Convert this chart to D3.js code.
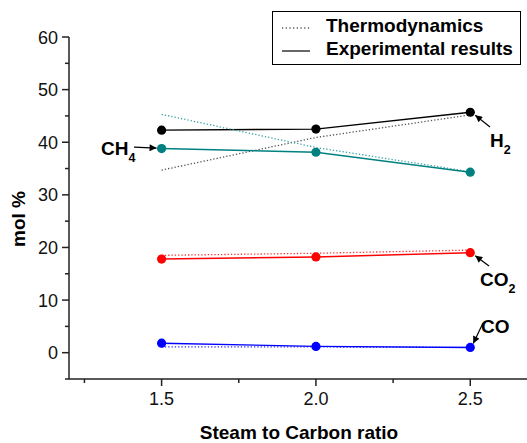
<!DOCTYPE html>
<html>
<head>
<meta charset="utf-8">
<script src="https://cdn.jsdelivr.net/npm/d3@7"></script>
<style>
  body { margin: 0; background: #fff; }
  svg { font-family: "Liberation Sans", Arial, sans-serif; }
</style>
</head>
<body>
<svg id="chart" width="527" height="443"></svg>
<script>
// steam to carbon ratios
const ratios = [1.5, 2.0, 2.5];

// experimental results (mol %)
const expH2 = [42.3, 42.5, 45.7];
const expCH4 = [38.8, 38.1, 34.3];
const expCO2 = [17.8, 18.2, 19.0];
const expCO = [1.8, 1.2, 1.0];

// thermodynamic equilibrium (mol %)
const thH2 = [34.7, 40.9, 45.2];
const thCH4 = [45.3, 39.0, 34.4];
const thCO2 = [18.5, 18.9, 19.5];
const thCO = [1.1, 1.1, 1.0];

const xTicks = [1.5, 2.0, 2.5];
const xMinorTicks = [1.25, 1.75, 2.25];
const yTicks = [0, 10, 20, 30, 40, 50, 60];
const yMinorTicks = [-5, 5, 15, 25, 35, 45, 55];

const series = [
  {name: 'H2', exp: expH2, th: thH2, color: '#000000', thColor: '#555555'},
  {name: 'CH4', exp: expCH4, th: thCH4, color: '#008080', thColor: '#3aa3a3'},
  {name: 'CO2', exp: expCO2, th: thCO2, color: '#ff0000', thColor: '#ff3030'},
  {name: 'CO', exp: expCO, th: thCO, color: '#0000ff', thColor: '#3030ff'},
];

const svg = d3.select('#chart');

const x = d3.scaleLinear().domain([1.2, 2.7]).range([69, 532]);
const y = d3.scaleLinear().domain([-5, 60]).range([379, 37]);

// axes
const xAxis = svg.append('g').attr('transform', 'translate(0,379)');
xAxis.append('line').attr('x1', 69).attr('x2', 527)
    .attr('stroke', '#222').attr('stroke-width', 1.5);
xAxis.selectAll('.major').data(xTicks).join('line')
    .attr('x1', d => x(d)).attr('x2', d => x(d))
    .attr('y1', 0).attr('y2', 7)
    .attr('stroke', '#222').attr('stroke-width', 1.5);
xAxis.selectAll('.minor').data(xMinorTicks).join('line')
    .attr('x1', d => x(d)).attr('x2', d => x(d))
    .attr('y1', 0).attr('y2', 4)
    .attr('stroke', '#222').attr('stroke-width', 1.5);
xAxis.selectAll('text').data(xTicks).join('text')
    .attr('x', d => x(d)).attr('y', 26)
    .attr('text-anchor', 'middle')
    .attr('font-size', 18).attr('fill', '#111')
    .text(d => d.toFixed(1));

const yAxis = svg.append('g').attr('transform', 'translate(69,0)');
yAxis.append('line').attr('y1', y(60)).attr('y2', 379)
    .attr('stroke', '#222').attr('stroke-width', 1.5);
yAxis.selectAll('.major').data(yTicks).join('line')
    .attr('y1', d => y(d)).attr('y2', d => y(d))
    .attr('x1', -7).attr('x2', 0)
    .attr('stroke', '#222').attr('stroke-width', 1.5);
yAxis.selectAll('.minor').data(yMinorTicks).join('line')
    .attr('y1', d => y(d)).attr('y2', d => y(d))
    .attr('x1', -4).attr('x2', 0)
    .attr('stroke', '#222').attr('stroke-width', 1.5);
yAxis.selectAll('text').data(yTicks).join('text')
    .attr('x', -11).attr('y', d => y(d) + 6.5)
    .attr('text-anchor', 'end')
    .attr('font-size', 18).attr('fill', '#111')
    .text(d => d);

// axis titles
svg.append('text')
    .attr('transform', 'translate(25,219) rotate(-90)')
    .attr('text-anchor', 'middle')
    .attr('font-size', 19).attr('font-weight', 'bold')
    .text('mol %');
svg.append('text')
    .attr('x', 299).attr('y', 439)
    .attr('text-anchor', 'middle')
    .attr('font-size', 19).attr('font-weight', 'bold')
    .text('Steam to Carbon ratio');

// lines
const line = d3.line().x((d, i) => x(ratios[i])).y(d => y(d));

for (const s of series) {
  svg.append('path')
      .attr('d', line(s.th))
      .attr('fill', 'none')
      .attr('stroke', s.thColor)
      .attr('stroke-width', 1.3)
      .attr('stroke-dasharray', '1.3,2');
  svg.append('path')
      .attr('d', line(s.exp))
      .attr('fill', 'none')
      .attr('stroke', s.color)
      .attr('stroke-width', 1.4);
  svg.append('g').selectAll('circle').data(s.exp).join('circle')
      .attr('cx', (d, i) => x(ratios[i]))
      .attr('cy', d => y(d))
      .attr('r', 4.6)
      .attr('fill', s.color);
}

// arrow marker
svg.append('defs').append('marker')
    .attr('id', 'arrow')
    .attr('viewBox', '0 0 10 10')
    .attr('refX', 10).attr('refY', 5)
    .attr('markerWidth', 9).attr('markerHeight', 7)
    .attr('markerUnits', 'userSpaceOnUse')
    .attr('orient', 'auto')
    .append('path').attr('d', 'M0,0 L10,5 L0,10 Z').attr('fill', '#000');

function arrow(x1, y1, x2, y2) {
  svg.append('line')
      .attr('x1', x1).attr('y1', y1).attr('x2', x2).attr('y2', y2)
      .attr('stroke', '#000').attr('stroke-width', 1.2)
      .attr('marker-end', 'url(#arrow)');
}

function label(xPos, yPos, main, sub) {
  const t = svg.append('text')
      .attr('x', xPos).attr('y', yPos)
      .attr('font-size', 19).attr('font-weight', 'bold');
  t.append('tspan').text(main);
  if (sub) {
    t.append('tspan').attr('dy', 7).attr('font-size', 12.5).text(sub);
  }
}

// annotations
label(101, 155, 'CH', '4');
arrow(134, y(expCH4[0]) - 1.5, x(1.5) - 5, y(expCH4[0]) - 0.5);

label(490, 147, 'H', '2');
arrow(490, 127, x(2.5) + 5, y(expH2[2]) + 3);

label(480, 286, 'CO', '2');
arrow(489, 266, x(2.5) + 5, y(expCO2[2]) + 3);

label(481, 333, 'CO');
arrow(483, 323, x(2.5) + 3, y(expCO[2]) - 4);

// legend
const legend = svg.append('g');
legend.append('rect')
    .attr('x', 272.5).attr('y', 11.5).attr('width', 248).attr('height', 53)
    .attr('fill', '#fff').attr('stroke', '#000').attr('stroke-width', 1);
legend.append('line')
    .attr('x1', 282).attr('x2', 310).attr('y1', 28).attr('y2', 28)
    .attr('stroke', '#000').attr('stroke-width', 1.2)
    .attr('stroke-dasharray', '1.2,2.5');
legend.append('line')
    .attr('x1', 282).attr('x2', 310).attr('y1', 51).attr('y2', 51)
    .attr('stroke', '#000').attr('stroke-width', 1.2);
legend.append('text')
    .attr('x', 326).attr('y', 32)
    .attr('font-size', 19).attr('font-weight', 'bold')
    .text('Thermodynamics');
legend.append('text')
    .attr('x', 326).attr('y', 55)
    .attr('font-size', 19).attr('font-weight', 'bold')
    .text('Experimental results');
</script>
</body>
</html>
